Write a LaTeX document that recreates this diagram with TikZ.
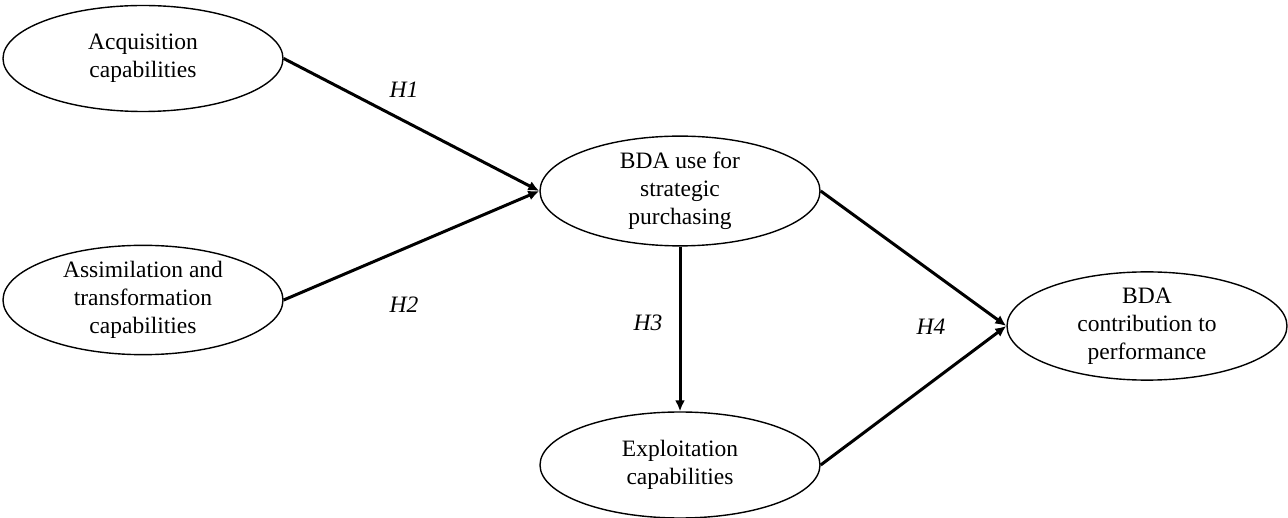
\documentclass[tikz,border=0pt]{standalone}
\usepackage{fontspec}
\setmainfont{Liberation Serif}
\usetikzlibrary{shapes.geometric,arrows.meta}
\begin{document}
\begin{tikzpicture}[x=1pt,y=-1pt,
  construct/.style={draw,line width=1.4pt,ellipse,minimum width=280pt,minimum height=106pt,inner sep=0pt,align=center,font=\fontsize{23.5}{28}\selectfont},
  path/.style={line width=3pt,-{Latex[length=11pt,width=10pt]}},
  hyp/.style={font=\fontsize{23.5}{28}\selectfont\itshape}]
\useasboundingbox (0,0) rectangle (1288,518);
\node[construct] (acq) at (143,58.5) {Acquisition\\capabilities};
\node[construct] (ass) at (143,300) {Assimilation and\\transformation\\capabilities};
\node[construct] (use) at (680,191) {BDA use for\\strategic\\purchasing};
\node[construct] (exp) at (680,465) {Exploitation\\capabilities};
\node[construct] (con) at (1147,326) {BDA\\contribution to\\performance};
\draw[path] (acq.east) -- (use.west);
\draw[path] (ass.east) -- (use.west);
\draw[path] (use.south) -- (exp.north);
\draw[path] (use.east) -- (con.west);
\draw[path] (exp.east) -- (con.west);
\node[hyp] (h1) at (404,90) {H1};
\node[hyp] (h2) at (404,305) {H2};
\node[hyp] (h3) at (648,323) {H3};
\node[hyp] (h4) at (931,327) {H4};
\end{tikzpicture}
\end{document}
